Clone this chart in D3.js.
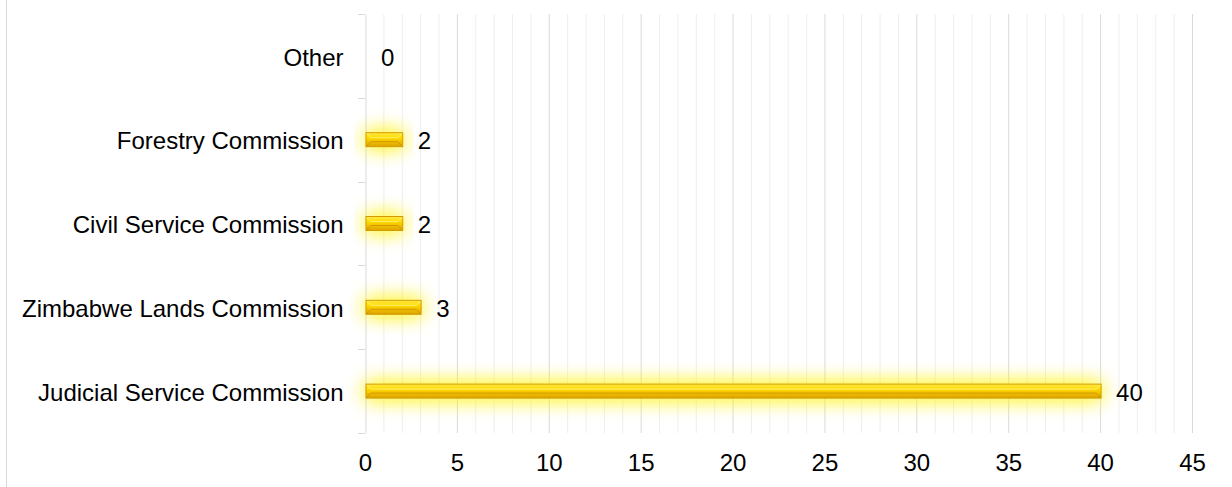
<!DOCTYPE html>
<html><head><meta charset="utf-8">
<script src="https://cdn.jsdelivr.net/npm/d3@7"></script>
<style>body{margin:0;background:#fff}svg{display:block;font-family:"Liberation Sans",Arial,sans-serif}</style>
</head><body>
<svg id="c" width="1232" height="487"></svg>
<script>
const categories = ["Other","Forestry Commission","Civil Service Commission","Zimbabwe Lands Commission","Judicial Service Commission"];
const values = [0,2,2,3,40];
const xTicks = [0,5,10,15,20,25,30,35,40,45];

const svg = d3.select("#c");
const m = {left:365, right:1192, top:14, bottom:433};
const x = d3.scaleLinear().domain([0,45]).range([m.left, m.right]);
const y = d3.scaleBand().domain(categories).range([m.top, m.bottom]);
const FS = 24;

const defs = svg.append("defs");
const glow = defs.append("filter").attr("id","glow").attr("x","-30%").attr("y","-400%").attr("width","160%").attr("height","900%");
glow.append("feGaussianBlur").attr("in","SourceAlpha").attr("stdDeviation","10").attr("result","b");
glow.append("feFlood").attr("flood-color","#fff200").attr("flood-opacity","0.7");
glow.append("feComposite").attr("in2","b").attr("operator","in").attr("result","g");
const mg = glow.append("feMerge");
mg.append("feMergeNode").attr("in","g");
mg.append("feMergeNode").attr("in","g");
mg.append("feMergeNode").attr("in","SourceGraphic");

const grad = defs.append("linearGradient").attr("id","gold").attr("x1",0).attr("y1",0).attr("x2",0).attr("y2",1);
grad.append("stop").attr("offset","0%").attr("stop-color","#ffe84a");
grad.append("stop").attr("offset","35%").attr("stop-color","#ffdc00");
grad.append("stop").attr("offset","60%").attr("stop-color","#f4c400");
grad.append("stop").attr("offset","100%").attr("stop-color","#dba200");

// frame line on left
svg.append("line").attr("x1",6.5).attr("x2",6.5).attr("y1",0).attr("y2",487).attr("stroke","#d9d9d9");

// gridlines
const minor = d3.range(1,46).filter(d=>d%5!==0);
svg.append("g").selectAll("line").data(minor).join("line")
  .attr("x1",d=>x(d)+0.5).attr("x2",d=>x(d)+0.5).attr("y1",m.top).attr("y2",m.bottom)
  .attr("stroke","#eeeeee");
svg.append("g").selectAll("line").data(xTicks.filter(d=>d>0)).join("line")
  .attr("x1",d=>x(d)+0.5).attr("x2",d=>x(d)+0.5).attr("y1",m.top).attr("y2",m.bottom)
  .attr("stroke","#d9d9d9");

// y axis
const yAxis = svg.append("g").attr("transform",`translate(${m.left+0.5},0)`)
  .call(d3.axisLeft(y).tickSize(0).tickPadding(22));
yAxis.select(".domain").attr("stroke","#d9d9d9");
yAxis.selectAll("text").attr("font-size",FS).attr("fill","#000").attr("dy","0.4em").attr("font-family","Liberation Sans, Arial, sans-serif");
// band boundary ticks
const bounds = categories.map(c=>y(c)).concat([m.bottom]);
svg.append("g").selectAll("line").data(bounds).join("line")
  .attr("x1",m.left-7).attr("x2",m.left).attr("y1",d=>Math.round(d)+0.5).attr("y2",d=>Math.round(d)+0.5)
  .attr("stroke","#d9d9d9");

// x axis labels
const xAxis = svg.append("g").attr("transform",`translate(0,${m.bottom})`)
  .call(d3.axisBottom(x).tickValues(xTicks).tickSize(0).tickPadding(21));
xAxis.select(".domain").remove();
xAxis.selectAll("text").attr("font-size",FS).attr("fill","#000").attr("font-family","Liberation Sans, Arial, sans-serif");

// bars
const bh = 14;
const bars = svg.append("g").selectAll("g").data(categories.map((c,i)=>({c,v:values[i]}))).join("g");
bars.filter(d=>d.v>0).append("rect")
  .attr("x",x(0)+1).attr("y",d=>y(d.c)+y.bandwidth()/2-bh/2)
  .attr("width",d=>x(d.v)-x(0)).attr("height",bh)
  .attr("fill","url(#gold)").attr("stroke","#d39a00").attr("stroke-width",1)
  .attr("filter","url(#glow)");
// bevel highlights
bars.filter(d=>d.v>0).append("polyline")
  .attr("points",d=>{const y0=y(d.c)+y.bandwidth()/2-bh/2, x0=x(0)+1, x1=x(d.v)+1;
    return `${x0+1},${y0+1} ${x0+5},${y0+5} ${x1-5},${y0+5} ${x1-1},${y0+1}`;})
  .attr("fill","none").attr("stroke","#fff27a").attr("stroke-width",1).attr("opacity",0.9);
bars.filter(d=>d.v>0).append("polyline")
  .attr("points",d=>{const y0=y(d.c)+y.bandwidth()/2-bh/2, x0=x(0)+1, x1=x(d.v)+1;
    return `${x0+1},${y0+bh-1} ${x0+5},${y0+bh-5} ${x1-5},${y0+bh-5} ${x1-1},${y0+bh-1}`;})
  .attr("fill","none").attr("stroke","#c98f00").attr("stroke-width",1).attr("opacity",0.8);

// value labels
bars.append("text")
  .attr("x",d=>x(d.v)+16).attr("y",d=>y(d.c)+y.bandwidth()/2)
  .attr("dy","0.4em").attr("font-size",FS).attr("fill","#000")
  .text(d=>d.v);
</script>
</body></html>
